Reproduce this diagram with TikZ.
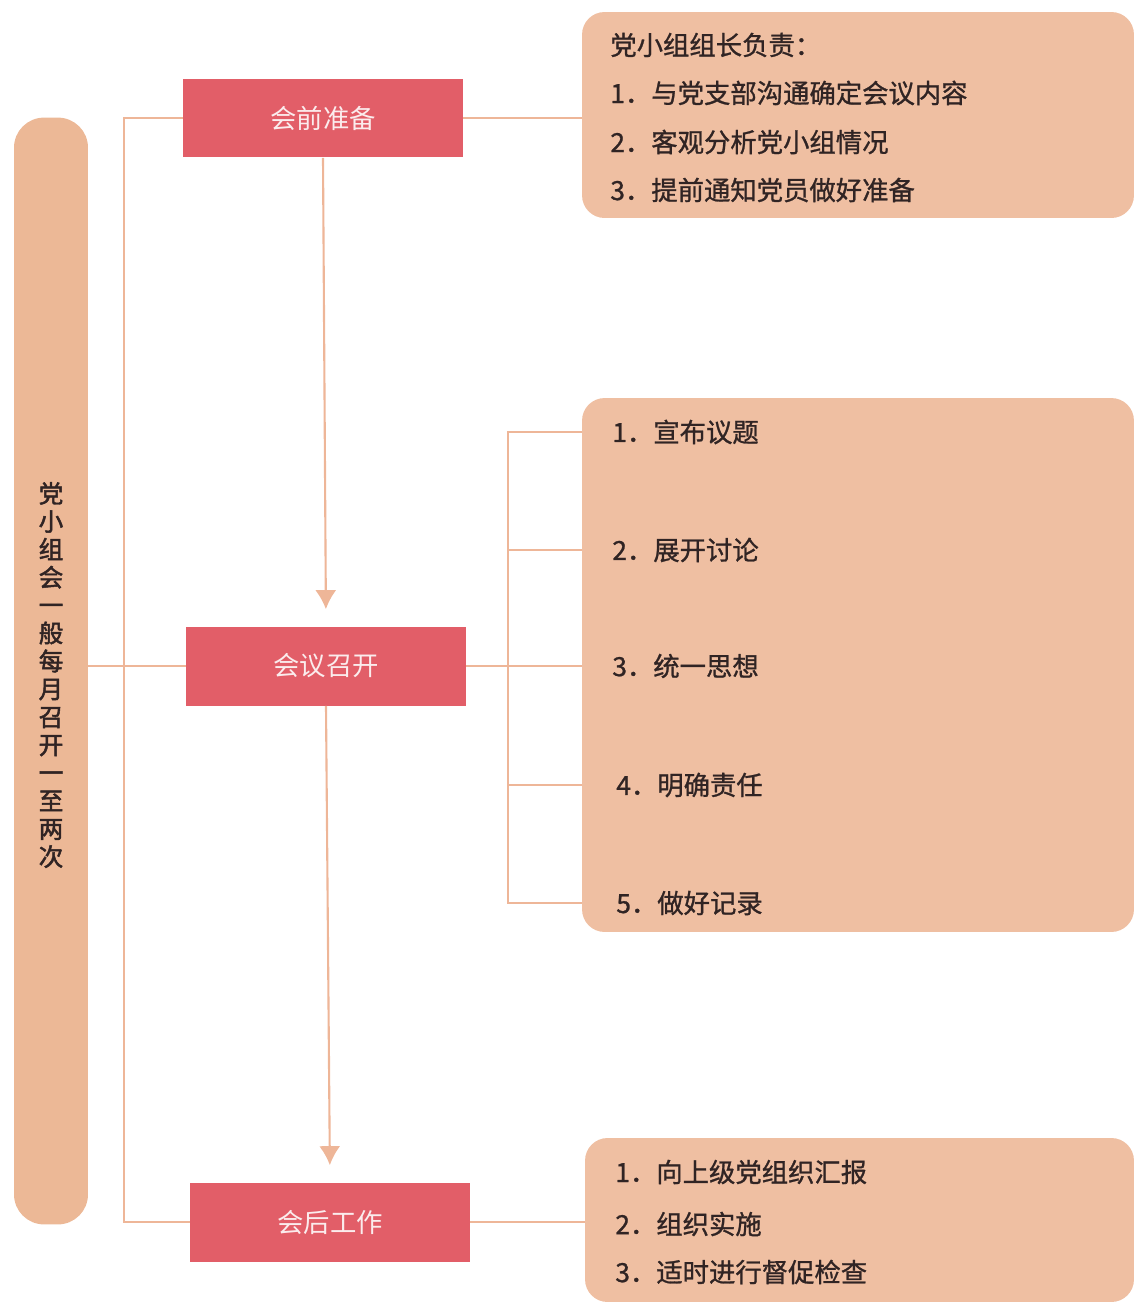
\documentclass[tikz,border=0pt]{standalone}
\usepackage{fontspec}
\setmainfont{Noto Sans CJK SC}
\newfontfamily\heavycjk[FakeBold=2]{Noto Sans CJK SC}
\newfontfamily\midcjk[FakeBold=1]{Noto Sans CJK SC}
\usetikzlibrary{arrows.meta}
\definecolor{peach}{RGB}{239,191,162}
\definecolor{peachdeep}{RGB}{236,184,150}
\definecolor{peachline}{RGB}{238,182,152}
\definecolor{stagered}{RGB}{226,94,104}
\definecolor{txtdark}{RGB}{48,36,36}

\tikzset{
  stage/.style={fill=stagered, text=white!88!stagered, minimum width=5.6cm,
    minimum height=1.58cm, inner sep=0pt, font=\fontsize{15}{18}\selectfont},
  panel/.style={fill=peach, rounded corners=0.45cm, inner sep=0pt},
  item/.style={anchor=west, text=txtdark, inner sep=0pt,
    font=\midcjk\fontsize{15}{18}\selectfont},
  link/.style={draw=peachline, line width=1.2pt},
  flow/.style={link, -{Latex[width=0.42cm,length=0.38cm]}, shorten >=0.34cm}
}

\begin{document}
\begin{tikzpicture}[x=0.02cm, y=-0.02cm]
\useasboundingbox (0,0) rectangle (1134,1302);

% left column
\node[panel, fill=peachdeep, rounded corners=0.6cm, minimum width=1.48cm,
  minimum height=22.14cm] (freq) at (51,671){};
\node[text=txtdark, align=center, inner sep=0pt,
  font=\heavycjk\fontsize{14}{15.9}\selectfont] (freqtxt) at (51,675)
  {党\\小\\组\\会\\一\\般\\每\\月\\召\\开\\一\\至\\两\\次};

% stages
\node[stage] (prep) at (323,118){会前准备};
\node[stage] (meet) at (326,666){会议召开};
\node[stage] (after) at (330,1222){会后工作};

% right panels
\node[panel, minimum width=11.04cm, minimum height=4.12cm] (note) at (858,115){};
\node[panel, minimum width=11.04cm, minimum height=10.68cm] (body) at (858,665){};
\node[panel, minimum width=10.98cm, minimum height=3.28cm] (report) at (859.5,1220){};

% texts in panels
\node[item] (n0) at (610,45){党小组组长负责：};
\node[item] (n1) at (610,93){1．与党支部沟通确定会议内容};
\node[item] (n2) at (610,142){2．客观分析党小组情况};
\node[item] (n3) at (610,190){3．提前通知党员做好准备};

\node[item] (m1) at (612,432){1．宣布议题};
\node[item] (m2) at (612,550){2．展开讨论};
\node[item] (m3) at (612,666){3．统一思想};
\node[item] (m4) at (616,785){4．明确责任};
\node[item] (m5) at (616,903){5．做好记录};

\node[item] (r1) at (615,1172){1．向上级党组织汇报};
\node[item] (r2) at (615,1224){2．组织实施};
\node[item] (r3) at (615,1272){3．适时进行督促检查};

% connectors
\coordinate (spine) at (124,666);
\coordinate (brk) at (508,666);
\draw[link] (prep.west) -| (spine) |- (after.west);
\draw[link] (meet.west -| freq.east) -- (meet.west);
\draw[flow] (prep.south) -- (meet.north);
\draw[flow] (meet.south) -- (after.north);
\draw[link] (prep.east) -- (prep.east -| note.west);
\draw[link] (meet.east) -- (meet.east -| body.west);
\draw[link] (after.east) -- (after.east -| report.west);
\draw[link] (m1.west -| body.west) -- (m1.west -| brk) -- (m5.west -| brk) -- (m5.west -| body.west);
\foreach \m in {m2,m4}
  \draw[link] (\m.west -| brk) -- (\m.west -| body.west);

\end{tikzpicture}
\end{document}
